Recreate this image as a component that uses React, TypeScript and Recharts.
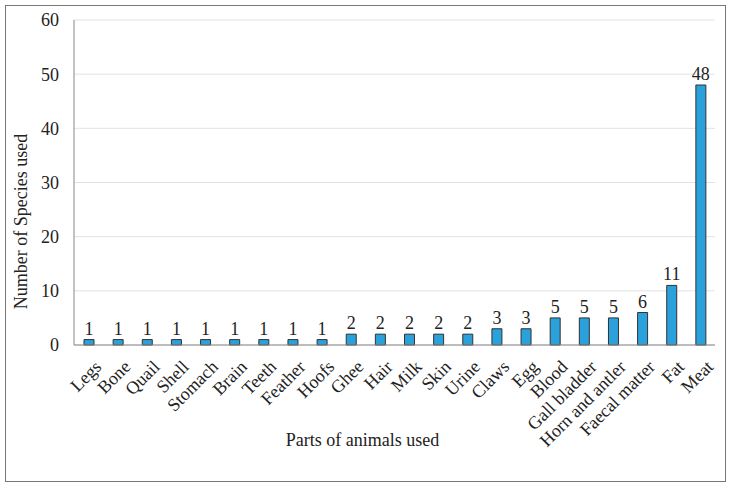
import React from 'react';
import { BarChart, Bar, XAxis, YAxis, CartesianGrid, LabelList } from 'recharts';

const parts = [
  'Legs', 'Bone', 'Quail', 'Shell', 'Stomach', 'Brain', 'Teeth', 'Feather', 'Hoofs',
  'Ghee', 'Hair', 'Milk', 'Skin', 'Urine', 'Claws', 'Egg', 'Blood', 'Gall bladder',
  'Horn and antler', 'Faecal matter', 'Fat', 'Meat',
];
const speciesCount = [1, 1, 1, 1, 1, 1, 1, 1, 1, 2, 2, 2, 2, 2, 3, 3, 5, 5, 5, 6, 11, 48];
const yTicks = [0, 10, 20, 30, 40, 50, 60];

const data = parts.map((p, i) => ({ part: p, count: speciesCount[i] }));

const FONT = '"Liberation Serif", "Times New Roman", serif';
const FS = 18;

const XTick = (props: any) => {
  const { x, y, payload } = props;
  return (
    <g transform={`translate(${x + 5},${y + 6})`}>
      <text
        transform="rotate(-45)"
        textAnchor="end"
        dy="0.7em"
        style={{ fontFamily: FONT, fontSize: FS }}
        fill="#222"
      >
        {payload.value}
      </text>
    </g>
  );
};

export default function App() {
  return (
    <div style={{ position: 'absolute', left: 0, top: 0, width: 733, height: 489, background: '#fff', fontFamily: FONT }}>
      <div
        style={{
          position: 'absolute', left: 5, top: 5, width: 721, height: 477,
          border: '1px solid #777', boxSizing: 'border-box',
        }}
      />
      <BarChart
        width={733}
        height={489}
        data={data}
        margin={{ top: 20, right: 18, left: 0, bottom: 0 }}
        barSize={10}
        style={{ fontFamily: FONT }}
      >
        <CartesianGrid vertical={false} stroke="#e2e2e2" />
        <XAxis
          dataKey="part"
          interval={0}
          height={144}
          tickLine={false}
          axisLine={{ stroke: '#888' }}
          tick={<XTick />}
          label={{
            value: 'Parts of animals used',
            position: 'insideBottom',
            offset: 43,
            dx: -32,
            style: { fontFamily: FONT, fontSize: FS, fill: '#222' },
          }}
        />
        <XAxis xAxisId="top" orientation="top" dataKey="part" tick={false} tickLine={false} axisLine={{ stroke: '#888' }} height={0} />
        <YAxis
          width={74}
          domain={[0, 60]}
          ticks={yTicks}
          tickLine={false}
          axisLine={{ stroke: '#888' }}
          tickMargin={9}
          tick={{ style: { fontFamily: FONT, fontSize: FS }, fill: '#222' }}
          label={{
            value: 'Number of Species used',
            angle: -90,
            position: 'insideLeft',
            dx: 16,
            dy: 39,
            style: { textAnchor: 'middle', fontFamily: FONT, fontSize: FS, fill: '#222' },
          }}
        />
        <YAxis yAxisId="right" orientation="right" tick={false} tickLine={false} axisLine={{ stroke: '#888' }} width={0} />
        <Bar dataKey="count" fill="#2AA1DB" stroke="#333" strokeWidth={1} isAnimationActive={false}>
          <LabelList dataKey="count" position="top" offset={5} fill="#222" style={{ fontFamily: FONT, fontSize: FS }} />
        </Bar>
      </BarChart>
    </div>
  );
}
